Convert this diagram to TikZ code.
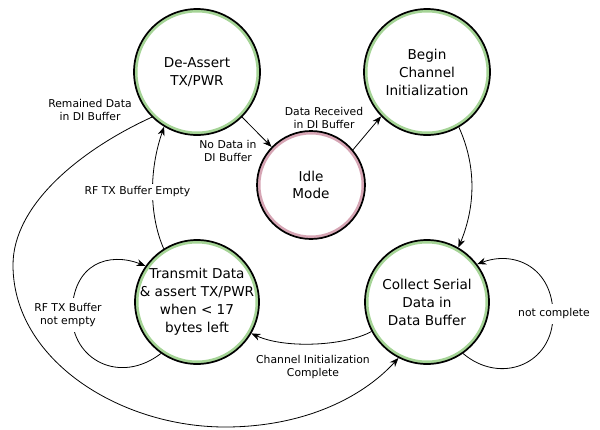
\documentclass[tikz,border=0pt]{standalone}
\usepackage{fontspec}
\setmainfont{DejaVu Sans}
\usetikzlibrary{arrows.meta,calc}
\definecolor{ringgreen}{RGB}{165,212,150}
\definecolor{ringpink}{RGB}{214,165,180}
\begin{document}
\begin{tikzpicture}[x=1pt,y=-1pt,
  state/.style={circle, draw=black, line width=1.7pt, fill=white, minimum size=#1, inner sep=0pt},
  ring/.style={path picture={\draw[#1, line width=7pt] let \p1=(path picture bounding box.east), \p2=(path picture bounding box.center) in (\p2) circle[radius=\x1-\x2];}},
  st/.style={font=\fontsize{13.6}{18}\selectfont, align=center, inner sep=0pt},
  lab/.style={font=\fontsize{10.8}{13}\selectfont, align=center, inner sep=1pt},
  edge/.style={draw, line width=0.8pt, -{Stealth[length=9pt,width=7pt]}}]
\fill[white] (0,0) rectangle (600,429);
\useasboundingbox (0,0) rectangle (600,429);

% states
\node[state=126pt, ring=ringgreen] (deassert) at (197,72) {};
\node[state=126pt, ring=ringgreen] (begin) at (427,72) {};
\node[state=108pt, ring=ringpink] (idle) at (311,185) {};
\node[state=124pt, ring=ringgreen] (transmit) at (197,302) {};
\node[state=124pt, ring=ringgreen] (collect) at (427,302) {};

\node[st] (tdeassert) at (deassert) {De-Assert\\TX/PWR};
\node[st] (tbegin) at (begin) {Begin\\Channel\\Initialization};
\node[st, font=\fontsize{13.6}{17}\selectfont] (tidle) at (idle) {Idle\\Mode};
\node[st] (ttransmit) at (transmit) {Transmit Data\\\& assert TX/PWR\\when < 17\\bytes left};
\node[st] (tcollect) at (collect) {Collect Serial\\Data in\\Data Buffer};

% transitions
\draw[edge] (deassert.-45) -- (idle.136);
\node[lab] (lnodata) at (228,151) {No Data in\\DI Buffer};

\draw[edge] (idle.40) -- (begin.224);
\node[lab] (lrecv) at (324,118) {Data Received\\in DI Buffer};

\draw[edge] (begin.300) .. controls (476,165) and (476,205) .. (collect.60);

\draw[edge] (collect.208) .. controls (345,346) and (285,349) .. (transmit.330);
\node[lab] (lchan) at (313,367) {Channel Initialization\\Complete};

\draw[edge] (transmit.122) .. controls (149,215) and (149,170) .. (deassert.239);
\node[lab, fill=white, inner ysep=3pt] (lempty) at (137.5,192) {RF TX Buffer Empty};

\draw[edge] (deassert.225) .. controls (80,150) and (13,205) .. (13,265)
  .. controls (13,360) and (120,427) .. (225,427)
  .. controls (300,427) and (360,400) .. (collect.243);
\node[lab] (lremain) at (90,110) {Remained Data\\in DI Buffer};

\draw[edge] (transmit.235) .. controls (120,385) and (72,360) .. (72,315)
  .. controls (72,262) and (110,252) .. (transmit.145);
\node[lab, fill=white, inner ysep=5pt] (lnotempty) at (68,315) {RF TX Buffer\\not empty};

\draw[edge] (collect.305) .. controls (500,385) and (553,365) .. (553,315)
  .. controls (553,268) and (515,250) .. (collect.37);
\node[lab, fill=white, inner ysep=5pt] (lnotcomp) at (554,314) {not complete};
\end{tikzpicture}
\end{document}
